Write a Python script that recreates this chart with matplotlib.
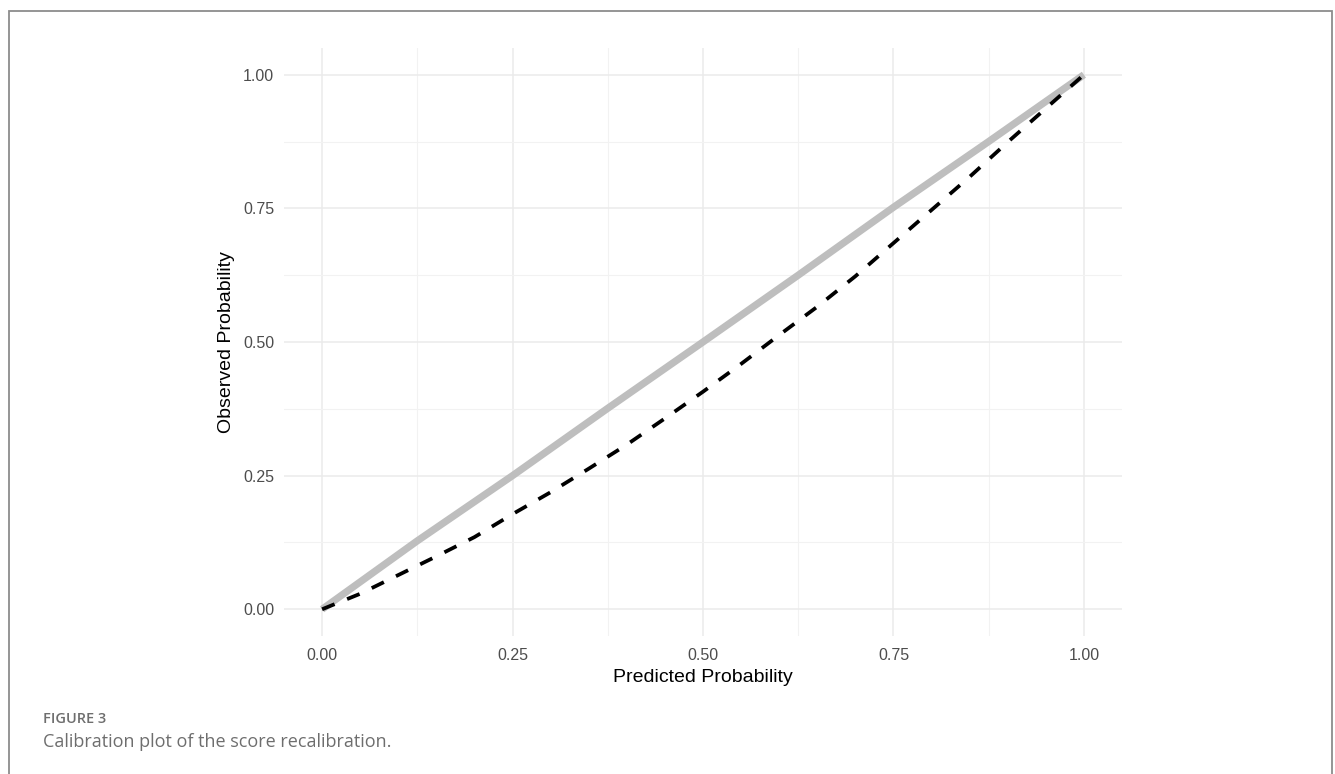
import matplotlib
matplotlib.use("Agg")
import matplotlib.pyplot as plt
from matplotlib.patches import Rectangle
import numpy as np

# readings from the reference picture
pred_ideal = [0.0, 0.125, 0.25, 0.375, 0.5, 0.625, 0.75, 0.875, 1.0]
obs_ideal = [0.0, 0.128, 0.25, 0.376, 0.5, 0.625, 0.752, 0.875, 1.0]

pred_raw = [0.0, 0.05, 0.1, 0.15, 0.2, 0.25, 0.3, 0.35, 0.4, 0.45, 0.5,
            0.55, 0.6, 0.65, 0.7, 0.75, 0.8, 0.85, 0.9, 0.95, 1.0]
obs_raw = [0.0, 0.029, 0.064, 0.099, 0.135, 0.178, 0.219, 0.263, 0.308, 0.357, 0.407,
           0.459, 0.513, 0.566, 0.623, 0.685, 0.747, 0.809, 0.874, 0.937, 1.0]

ticks = [0.0, 0.25, 0.5, 0.75, 1.0]
tick_labels = ["0.00", "0.25", "0.50", "0.75", "1.00"]
minor_ticks = [0.125, 0.375, 0.625, 0.875]

W, H = 1335, 774
fig = plt.figure(figsize=(W / 100, H / 100), dpi=100)
ax = fig.add_axes([284 / W, 1 - 636 / H, (1122 - 284) / W, (636 - 48) / H])

ax.plot(pred_ideal, obs_ideal, color="#BEBEBE", lw=5.2, solid_capstyle="butt", zorder=3)
ax.plot(pred_raw, obs_raw, color="black", lw=2.7, dashes=(3.6, 3.6), zorder=4)

ax.set_xlim(-0.05, 1.05)
ax.set_ylim(-0.05, 1.05)
ax.set_xticks(ticks)
ax.set_xticklabels(tick_labels)
ax.set_yticks(ticks)
ax.set_yticklabels(tick_labels)
ax.set_xticks(minor_ticks, minor=True)
ax.set_yticks(minor_ticks, minor=True)

ax.grid(which="major", color="#EBEBEB", lw=1.1)
ax.grid(which="minor", color="#F2F2F2", lw=0.8)
ax.set_axisbelow(True)
for s in ax.spines.values():
    s.set_visible(False)
ax.tick_params(which="both", length=0)
ax.tick_params(axis="x", pad=9, labelsize=11.5, labelcolor="#4D4D4D")
ax.tick_params(axis="y", pad=7, labelsize=11.5, labelcolor="#4D4D4D")
for lab in ax.get_xticklabels() + ax.get_yticklabels():
    lab.set_fontfamily("Liberation Sans")

ax.set_xlabel("Predicted Probability", fontsize=14, family="Liberation Sans", labelpad=4)
ax.set_ylabel("Observed Probability", fontsize=14, family="Liberation Sans", labelpad=6)

# outer frame of the figure panel
fig.add_artist(Rectangle((9 / W, -0.1), (1332 - 9) / W, 1.1 - 11 / H,
                         transform=fig.transFigure, fill=False,
                         edgecolor="#8C8C8C", lw=1.3))

fig.text(43 / W, 1 - 719 / H, "FIGURE 3", fontsize=10.5, color="#6E6E6E",
         family="Open Sans", fontweight="semibold", va="center")
fig.text(43 / W, 1 - 742 / H, "Calibration plot of the score recalibration.",
         fontsize=13, color="#6E6E6E", family="Open Sans", va="center")

fig.savefig("out.png", dpi=100)
